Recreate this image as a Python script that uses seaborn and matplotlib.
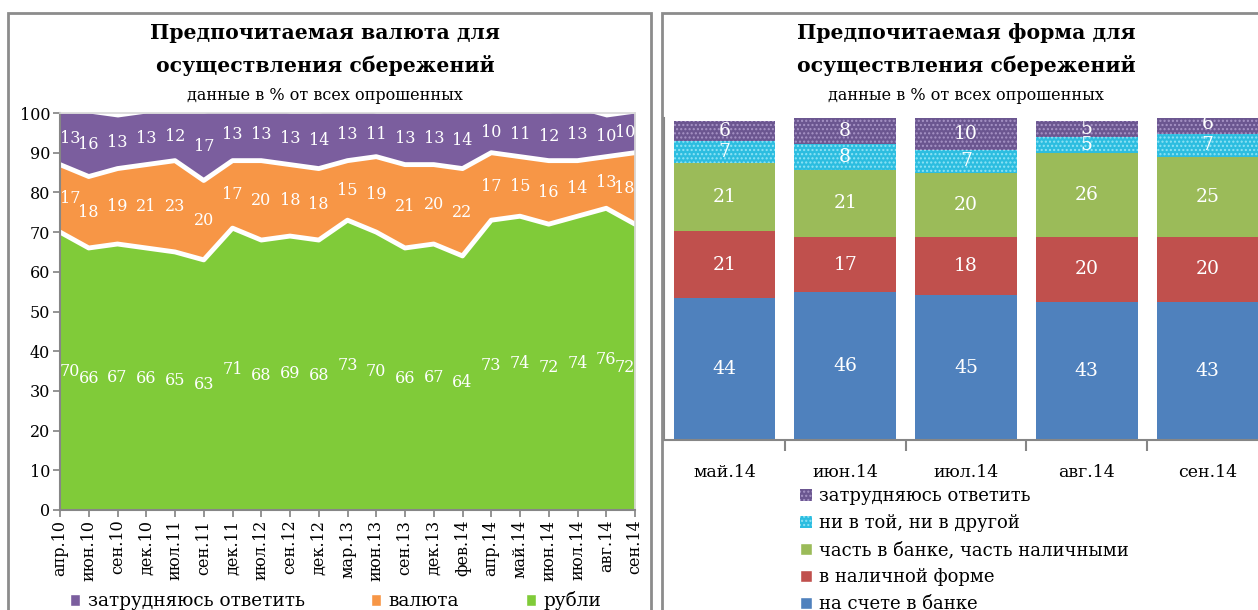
import numpy as np
import seaborn as sns
import matplotlib.pyplot as plt
from matplotlib.patches import Patch, Rectangle

# левый график: предпочитаемая валюта
dates = ["апр.10", "июн.10", "сен.10", "дек.10", "июл.11", "сен.11", "дек.11",
         "июл.12", "сен.12", "дек.12", "мар.13", "июн.13", "сен.13", "дек.13",
         "фев.14", "апр.14", "май.14", "июн.14", "июл.14", "авг.14", "сен.14"]
rubles = [70, 66, 67, 66, 65, 63, 71, 68, 69, 68, 73, 70, 66, 67, 64, 73, 74, 72, 74, 76, 72]
currency = [17, 18, 19, 21, 23, 20, 17, 20, 18, 18, 15, 19, 21, 20, 22, 17, 15, 16, 14, 13, 18]
hard_left = [13, 16, 13, 13, 12, 17, 13, 13, 13, 14, 13, 11, 13, 13, 14, 10, 11, 12, 13, 10, 10]

# правый график: предпочитаемая форма
months = ["май.14", "июн.14", "июл.14", "авг.14", "сен.14"]
in_bank = [44, 46, 45, 43, 43]
cash = [21, 17, 18, 20, 20]
mixed = [21, 21, 20, 26, 25]
neither = [7, 8, 7, 5, 7]
hard_right = [6, 8, 10, 5, 6]

sns.set_theme(style="white")
plt.rcParams['font.family'] = ['DejaVu Serif', 'Liberation Serif']
plt.rcParams['hatch.linewidth'] = 1.0
plt.rcParams['text.color'] = 'black'
plt.rcParams['xtick.labelcolor'] = 'black'
plt.rcParams['ytick.labelcolor'] = 'black'

W, H = 1258, 610
fig = plt.figure(figsize=(W / 100, H / 100), dpi=100)

def fx(px):
    return px / W

def fy(py):
    return 1 - py / H

# рамки панелей
fig.patches.append(Rectangle((fx(8), fy(640)), fx(651 - 8), fy(13) - fy(640),
                             transform=fig.transFigure, fill=False,
                             edgecolor="#8c8c8c", lw=2))
fig.patches.append(Rectangle((fx(662), fy(640)), fx(700), fy(13) - fy(640),
                             transform=fig.transFigure, fill=False,
                             edgecolor="#8c8c8c", lw=2))

GREEN = "#80cb39"
ORANGE = "#f79646"
PURPLE = "#7b5e9e"
AXC = "#868686"

# ---------- левый график ----------
ax1 = fig.add_axes([fx(60), fy(510), fx(635 - 60), fy(113) - fy(510)])
x = np.arange(len(dates))
rub = np.array(rubles)
top2 = rub + np.array(currency)
top3 = top2 + np.array(hard_left)
ax1.fill_between(x, 0, rub, color=GREEN, lw=0)
ax1.fill_between(x, rub, top2, color=ORANGE, lw=0)
ax1.fill_between(x, top2, top3, color=PURPLE, lw=0)
sns.lineplot(x=x, y=rub, color="white", lw=3.5, ax=ax1)
sns.lineplot(x=x, y=top2, color="white", lw=3.5, ax=ax1)
ax1.set_xlim(0, len(dates) - 1)
ax1.set_ylim(0, 100)
ax1.set_yticks(range(0, 101, 10))
ax1.set_xticks(x)
ax1.set_xticklabels(dates, rotation=90, fontsize=11.5)
ax1.tick_params(axis="y", labelsize=11.5, length=5, color=AXC, direction="out", left=True, pad=2)
ax1.tick_params(axis="x", length=5, color=AXC, direction="out", bottom=True, pad=2)
for s in ["left", "bottom"]:
    ax1.spines[s].set_color(AXC)
    ax1.spines[s].set_linewidth(1.5)
for s in ["top", "right"]:
    ax1.spines[s].set_color("#d9d9d9")

mids = [(rub / 2, rubles), ((rub + top2) / 2, currency), ((top2 + top3) / 2, hard_left)]
for ys, vals in mids:
    for i, (yv, v) in enumerate(zip(ys, vals)):
        ha = "left" if i == 0 else ("right" if i == len(dates) - 1 else "center")
        ax1.text(i, yv, str(v), ha=ha, va="center", color="white", fontsize=11.5)

fig.text(fx(325), fy(33), "Предпочитаемая валюта для", ha="center", va="center",
         fontsize=14.7, fontweight="bold")
fig.text(fx(325), fy(66), "осуществления сбережений", ha="center", va="center",
         fontsize=14.7, fontweight="bold")
fig.text(fx(325), fy(95), "данные в % от всех опрошенных", ha="center", va="center",
         fontsize=11.5)

h1 = [Patch(facecolor=PURPLE), Patch(facecolor=ORANGE), Patch(facecolor=GREEN)]
fig.legend(h1, ["затрудняюсь ответить", "валюта", "рубли"], loc="center left",
           bbox_to_anchor=(fx(70), fy(601)), ncol=3, frameon=False, fontsize=13.3,
           handlelength=0.55, handleheight=0.55, handletextpad=0.4, columnspacing=3.6,
           borderpad=0, borderaxespad=0)

# ---------- правый график ----------
BLUE = "#4f81bd"
RED = "#c0504d"
LGREEN = "#9bbb59"
CYAN = "#2cbde0"
DPURPLE = "#6b5690"

ax2 = fig.add_axes([fx(664), fy(440), fx(604), fy(118) - fy(440)])
layers = [
    (DPURPLE, "#a794c6", "...."),
    (CYAN, "#8fe3f5", "...."),
    (LGREEN, None, None),
    (RED, None, None),
    (BLUE, None, None),
]
stack = np.array([in_bank, cash, mixed, neither, hard_right], dtype=float)
cum = np.cumsum(stack, axis=0)
tops = [cum[4], cum[3], cum[2], cum[1], cum[0]]
for (col, hc, hatch), t in zip(layers, tops):
    if hatch:
        kw = dict(hatch=hatch, edgecolor=hc, linewidth=0)
    else:
        kw = dict(linewidth=0)
    sns.barplot(x=months, y=t, color=col, saturation=1, width=0.84,
                errorbar=None, ax=ax2, **kw)

bottoms = np.vstack([np.zeros(5), cum[:-1]])
for j in range(5):
    for i in range(5):
        ax2.text(i, bottoms[j, i] + stack[j, i] / 2, str(int(stack[j, i])),
                 ha="center", va="center", color="white", fontsize=13.5)

ax2.set_xlim(-0.5, 4.5)
ax2.set_ylim(0, 100)
ax2.set_yticks([])
ax2.set_ylabel("")
ax2.set_xticks(np.arange(0.5, 4.5, 1), minor=True)
ax2.tick_params(axis="x", which="major", length=0, labelsize=12.5, pad=17)
ax2.tick_params(axis="x", which="minor", length=8, color=AXC, direction="out", bottom=True, width=1.5)
for s in ["top", "right"]:
    ax2.spines[s].set_visible(False)
for s in ["left", "bottom"]:
    ax2.spines[s].set_color(AXC)
    ax2.spines[s].set_linewidth(1.5)

fig.text(fx(966), fy(33), "Предпочитаемая форма для", ha="center", va="center",
         fontsize=14.7, fontweight="bold")
fig.text(fx(966), fy(66), "осуществления сбережений", ha="center", va="center",
         fontsize=14.7, fontweight="bold")
fig.text(fx(966), fy(95), "данные в % от всех опрошенных", ha="center", va="center",
         fontsize=11.5)

h2 = [Patch(facecolor=DPURPLE, edgecolor="#a794c6", hatch="....", lw=0),
      Patch(facecolor=CYAN, edgecolor="#8fe3f5", hatch="....", lw=0),
      Patch(facecolor=LGREEN), Patch(facecolor=RED), Patch(facecolor=BLUE)]
fig.legend(h2, ["затрудняюсь ответить", "ни в той, ни в другой",
                "часть в банке, часть наличными", "в наличной форме", "на счете в банке"],
           loc="upper left", bbox_to_anchor=(fx(800), fy(487)), frameon=False,
           fontsize=13, handlelength=0.65, handleheight=0.65, handletextpad=0.4,
           labelspacing=0.5, borderpad=0, borderaxespad=0)

fig.savefig("out.png", dpi=100)
